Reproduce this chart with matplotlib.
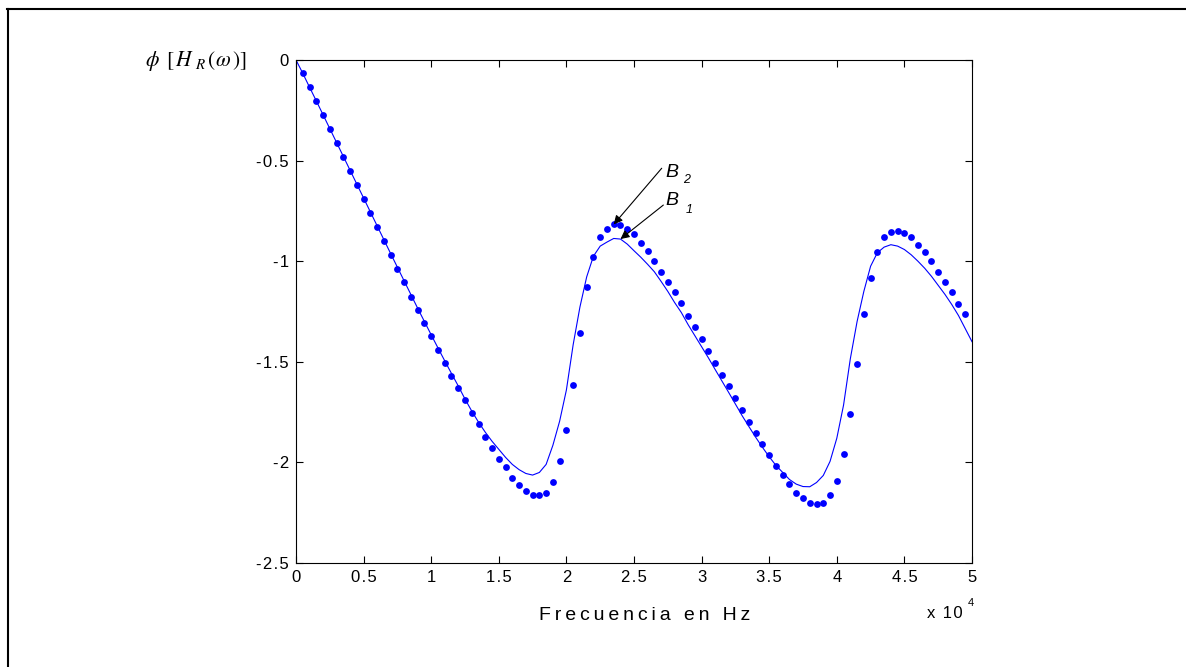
import numpy as np
import matplotlib
matplotlib.use("Agg")
import matplotlib.pyplot as plt
from matplotlib.lines import Line2D

plt.rcParams['font.family'] = ['Liberation Sans', 'DejaVu Sans']

# Frequency step of both responses (Hz) and axis scaling factor
STEP_HZ = 500
SCALE = 1e4

# Phase of the reference response (solid line), sampled every 500 Hz from 0 Hz
line_phase = [
    0.000, -0.066, -0.135, -0.203, -0.272, -0.341, -0.410, -0.479, -0.548, -0.617,
    -0.686, -0.755, -0.824, -0.893, -0.962, -1.030, -1.098, -1.166, -1.234, -1.300,
    -1.366, -1.431, -1.495, -1.558, -1.620, -1.685, -1.745, -1.800, -1.850, -1.895,
    -1.935, -1.975, -2.010, -2.036, -2.055, -2.063, -2.050, -2.010, -1.915, -1.795,
    -1.640, -1.415, -1.228, -1.078, -0.975, -0.925, -0.905, -0.887, -0.890, -0.915,
    -0.948, -0.980, -1.015, -1.052, -1.100, -1.150, -1.205, -1.255, -1.315, -1.370,
    -1.425, -1.480, -1.538, -1.595, -1.652, -1.710, -1.768, -1.822, -1.875, -1.925,
    -1.972, -2.015, -2.050, -2.085, -2.108, -2.120, -2.121, -2.100, -2.065, -1.995,
    -1.880, -1.715, -1.485, -1.300, -1.150, -1.025, -0.958, -0.930, -0.918, -0.925,
    -0.942, -0.968, -1.000, -1.035, -1.075, -1.120, -1.165, -1.215, -1.270, -1.335,
    -1.400,
]

# Phase of the approximated response (dots), sampled every 500 Hz from 500 Hz
dot_phase = [
    -0.065, -0.136, -0.202, -0.275, -0.343, -0.414, -0.480, -0.552, -0.620, -0.693,
    -0.759, -0.832, -0.898, -0.969, -1.037, -1.102, -1.176, -1.241, -1.306, -1.370,
    -1.440, -1.506, -1.570, -1.629, -1.690, -1.753, -1.811, -1.872, -1.930, -1.982,
    -2.025, -2.076, -2.112, -2.142, -2.162, -2.162, -2.150, -2.097, -1.995, -1.840,
    -1.613, -1.359, -1.130, -0.978, -0.880, -0.840, -0.817, -0.822, -0.840, -0.866,
    -0.911, -0.948, -0.999, -1.052, -1.102, -1.152, -1.209, -1.271, -1.329, -1.388,
    -1.445, -1.506, -1.564, -1.622, -1.680, -1.740, -1.797, -1.855, -1.909, -1.965,
    -2.018, -2.061, -2.105, -2.150, -2.179, -2.200, -2.207, -2.200, -2.162, -2.091,
    -1.958, -1.761, -1.512, -1.264, -1.082, -0.956, -0.881, -0.853, -0.848, -0.861,
    -0.881, -0.920, -0.956, -1.001, -1.052, -1.103, -1.153, -1.211, -1.264,
]

line_freq = np.arange(len(line_phase)) * STEP_HZ
dot_freq = (np.arange(len(dot_phase)) + 1) * STEP_HZ

x_ticks = [0, 0.5, 1, 1.5, 2, 2.5, 3, 3.5, 4, 4.5, 5]
x_tick_labels = ['0', '0.5', '1', '1.5', '2', '2.5', '3', '3.5', '4', '4.5', '5']
y_ticks = [0, -0.5, -1, -1.5, -2, -2.5]
y_tick_labels = ['0', '-0.5', '-1', '-1.5', '-2', '-2.5']

# Marked points: B2 on the dotted response, B1 on the solid one
b2_point = (dot_freq[46] / SCALE, dot_phase[46])
b1_point = (line_freq[48] / SCALE, line_phase[48])

THIN = '\u2009'
HAIR = '\u200a'


def spaced(s, sep=THIN):
    return sep.join(s)


W, H = 1186, 667
fig = plt.figure(figsize=(W / 100, H / 100), dpi=100)
fig.patch.set_facecolor('white')

ax = fig.add_axes([296 / W, (H - 563) / H, (972 - 296) / W, (563 - 60) / H])

blue = '#0000ff'
ax.plot(line_freq / SCALE, line_phase, color=blue, lw=0.8)
ax.plot(dot_freq / SCALE, dot_phase, linestyle='none', marker='o',
        markersize=4.9, markerfacecolor=blue, markeredgecolor='none')

ax.set_xlim(0, 5)
ax.set_ylim(-2.5, 0)
ax.set_xticks(x_ticks)
ax.set_xticklabels([spaced(s, HAIR) for s in x_tick_labels])
ax.set_yticks(y_ticks)
ax.set_yticklabels([spaced(s, HAIR) for s in y_tick_labels])
ax.tick_params(direction='in', length=5, width=0.8, top=True, right=True,
               labelsize=12, pad=5)
for sp in ax.spines.values():
    sp.set_linewidth(0.8)

# Annotations with arrows
arrow_kw = dict(arrowstyle='-|>', color='black', lw=0.8, mutation_scale=13,
                shrinkA=0, shrinkB=0)
ax.annotate('', xy=b2_point, xytext=(2.705, -0.538), arrowprops=arrow_kw)
ax.annotate('', xy=b1_point, xytext=(2.717, -0.721), arrowprops=arrow_kw)
ax.text(2.73, -0.5815, 'B', fontsize=14, style='italic', ha='left', va='baseline')
ax.text(2.865, -0.611, '2', fontsize=9, style='italic', ha='left', va='baseline')
ax.text(2.73, -0.721, 'B', fontsize=14, style='italic', ha='left', va='baseline')
ax.text(2.885, -0.760, '1', fontsize=9, style='italic', ha='left', va='baseline')

# Axis titles
fig.text(645 / W, 1 - 616 / H, spaced('Frecuencia en Hz'), fontsize=14,
         ha='center', va='center')
fig.text(927 / W, 1 - 618 / H, spaced('x 10', HAIR), fontsize=12,
         ha='left', va='baseline')
fig.text(968 / W, 1 - 606 / H, '4', fontsize=8, ha='left', va='baseline')
fig.text(247 / W, 1 - 61 / H, r'$\phi\ \,[\,H_{\ R}\,(\omega\,)]$', fontsize=15.5,
         ha='right', va='center', math_fontfamily='stix')

# Page frame (left and top edges)
fig.add_artist(Line2D([7.5 / W, 7.5 / W], [0, 1 - 9 / H], color='black', lw=1.5,
                      transform=fig.transFigure))
fig.add_artist(Line2D([6.5 / W, 1], [1 - 9 / H, 1 - 9 / H], color='black', lw=1.5,
                      transform=fig.transFigure))

fig.savefig('out.png', dpi=100, facecolor='white')
